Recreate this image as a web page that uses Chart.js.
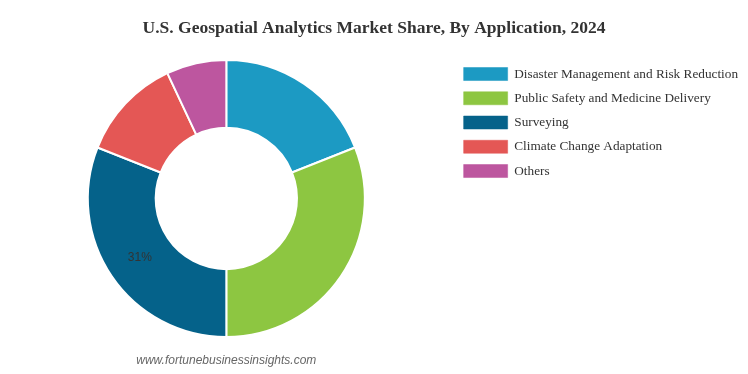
<!DOCTYPE html>
<html>
<head>
  <title>U.S. Geospatial Analytics Market Share</title>
<script src="https://cdn.jsdelivr.net/npm/chart.js"></script>
</head>
<style>
html, body {
  margin: 0;
  padding: 0;
  background: #fff;
}
#chart-container {
  width: 748px;
  height: 374px;
}
</style>
<body>
<div id="chart-container">
  <canvas id="chart"></canvas>
</div>
</body>
<script>
const categories = [
  'Disaster Management and Risk Reduction',
  'Public Safety and Medicine Delivery',
  'Surveying',
  'Climate Change Adaptation',
  'Others'
];
const shares = [19, 31, 31, 12, 7];
const colors = ['#1c9ac3', '#8dc641', '#05628a', '#e45755', '#bd569f'];
// only this slice carries a value label in the original
const labelledSlices = [2];

// value label in the middle of the ring + source line under the chart
const extras = {
  id: 'extras',
  afterDatasetsDraw(chart) {
    const ctx = chart.ctx;
    const meta = chart.getDatasetMeta(0);
    ctx.save();
    ctx.font = '12px "Liberation Sans", Arial, sans-serif';
    ctx.fillStyle = '#333';
    ctx.textAlign = 'center';
    ctx.textBaseline = 'middle';
    labelledSlices.forEach(i => {
      const pos = meta.data[i].tooltipPosition();
      ctx.fillText(shares[i] + '%', pos.x, pos.y);
    });

    const area = chart.chartArea;
    ctx.font = 'italic 12px "Liberation Sans", Arial, sans-serif';
    ctx.fillStyle = '#666';
    ctx.fillText('www.fortunebusinessinsights.com', (area.left + area.right) / 2, 361);
    ctx.restore();
  }
};

const serif = '"Liberation Serif", "Times New Roman", serif';

const chart = new Chart(document.getElementById('chart'), {
  type: 'doughnut',
  data: {
    labels: categories,
    datasets: [{
      data: shares,
      backgroundColor: colors,
      borderColor: '#fff',
      borderWidth: 2,
      hoverOffset: 0
    }]
  },
  options: {
    responsive: true,
    maintainAspectRatio: false,
    animation: false,
    cutout: '51%',
    layout: {
      padding: { top: 0, bottom: 36, left: 0, right: 0 }
    },
    plugins: {
      title: {
        display: true,
        text: 'U.S. Geospatial Analytics Market Share, By Application, 2024',
        color: '#333',
        font: { family: serif, size: 17.5, weight: 'bold' },
        padding: { top: 18, bottom: 20 }
      },
      legend: {
        position: 'right',
        align: 'start',
        // empty title just pushes the items down below the chart title
        title: {
          display: true,
          text: ' ',
          font: { family: serif, size: 13.25 },
          padding: { top: 20, bottom: 20.5 }
        },
        labels: {
          boxWidth: 44,
          boxHeight: 13,
          padding: 11,
          color: '#333',
          font: { family: serif, size: 13.25 },
          generateLabels(chart) {
            return categories.map((name, i) => ({
              text: name,
              fillStyle: colors[i],
              strokeStyle: colors[i] + '80',
              lineWidth: 1,
              fontColor: '#333',
              hidden: !chart.getDataVisibility(i),
              index: i
            }));
          }
        }
      },
      tooltip: { enabled: false }
    }
  },
  plugins: [extras]
});
</script>
</html>
